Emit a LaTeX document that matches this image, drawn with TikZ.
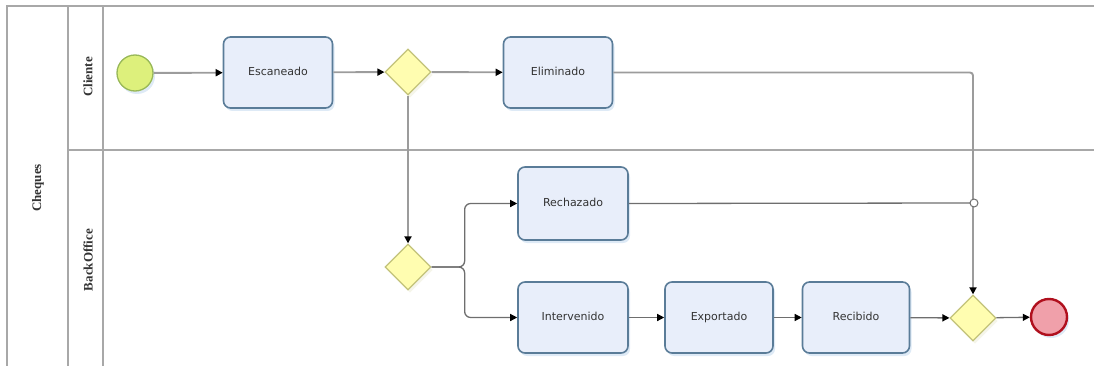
\documentclass[tikz,border=0pt]{standalone}
\usepackage{fontspec}
\setmainfont{DejaVu Sans}
\newfontfamily\lanefont{Liberation Serif}
\usetikzlibrary{arrows.meta,shapes.geometric,shadows}
\definecolor{laneline}{HTML}{A8A8A8}
\definecolor{flowup}{HTML}{9C9C9C}
\definecolor{flowlow}{HTML}{6E6E6E}
\definecolor{taskfill}{HTML}{E8EEFA}
\definecolor{taskdraw}{HTML}{5A7C98}
\definecolor{gwfill}{HTML}{FFFDB0}
\definecolor{gwdraw}{HTML}{C2C27A}
\definecolor{startfill}{HTML}{DDF07C}
\definecolor{startdraw}{HTML}{98B858}
\definecolor{endfill}{HTML}{F0A0AA}
\definecolor{enddraw}{HTML}{B0101E}
\definecolor{shadowc}{HTML}{C8DCF0}
\definecolor{textc}{HTML}{333333}
\tikzset{
  lane/.style={draw=laneline, line width=1.4pt},
  task/.style={rectangle, rounded corners=7pt, draw=taskdraw, line width=1.6pt, fill=taskfill,
     minimum width=109pt, minimum height=71pt, inner sep=0pt, text=textc,
     font=\fontsize{11}{13}\selectfont, text height=1.6ex, text depth=0.4ex,
     drop shadow={shadow xshift=2pt, shadow yshift=-3pt, fill=shadowc, opacity=0.6}},
  gw/.style={diamond, draw=gwdraw, line width=1.3pt, fill=gwfill, minimum width=46pt, minimum height=46pt, inner sep=0pt,
     drop shadow={shadow xshift=2pt, shadow yshift=-3pt, fill=gwdraw!40, opacity=0.4}},
  startev/.style={circle, draw=startdraw, line width=1.3pt, fill=startfill, minimum size=36pt, inner sep=0pt,
     drop shadow={shadow xshift=2pt, shadow yshift=-3pt, fill=shadowc, opacity=0.6}},
  endev/.style={circle, draw=enddraw, line width=2.4pt, fill=endfill, minimum size=36pt, inner sep=0pt,
     drop shadow={shadow xshift=2pt, shadow yshift=-3pt, fill=shadowc, opacity=0.6}},
  flowa/.style={draw=flowup, line width=1.9pt, -{Triangle[color=black,length=7pt,width=7pt]}},
  flowb/.style={draw=flowlow, line width=1.3pt, -{Triangle[color=black,length=7pt,width=7pt]}},
  lanelabel/.style={rotate=90, font=\lanefont\bfseries\fontsize{13}{15}\selectfont, inner sep=0pt, text=textc},
}
\begin{document}
\begin{tikzpicture}[x=1pt,y=-1pt]
\useasboundingbox (0,0) rectangle (1094,366);
% pool and lanes
\draw[lane] (1094,6) -- (7,6) -- (7,366);
\draw[lane] (68,6) -- (68,366);
\draw[lane] (103,6) -- (103,366);
\draw[lane] (68,150) -- (1094,150);
\node[lanelabel] (pool) at (38,188) {Cheques};
\node[lanelabel] (l1) at (88,77) {Cliente};
\node[lanelabel] (l2) at (88,260) {BackOffice};
% nodes
\node[startev] (start) at (135,73) {};
\node[task] (esc) at (278,72.5) {Escaneado};
\node[gw] (g1) at (408,72) {};
\node[task] (elim) at (558,72.5) {Eliminado};
\node[gw] (g2) at (408,267) {};
\node[task, minimum width=110pt, minimum height=73pt] (rech) at (573,203.5) {Rechazado};
\node[task, minimum width=110pt] (interv) at (573,317.5) {Intervenido};
\node[task, minimum width=108pt] (expo) at (719,317.5) {Exportado};
\node[task, minimum width=107pt] (recib) at (856,317.5) {Recibido};
\node[gw] (g3) at (973,318) {};
\node[endev] (end) at (1049,317) {};
\coordinate (hop) at (974,203);
% flows
\draw[flowa] (start) -- (esc);
\draw[flowa] (esc) -- (g1);
\draw[flowa] (g1) -- (elim);
\draw[flowa, rounded corners=3pt] (elim.east) -| (g3.north);
\draw[flowa] (g1.south) -- (g2.north);
\draw[flowb, rounded corners=6pt] (g2.east) -- ++(33,0) |- (rech.west);
\draw[flowb, rounded corners=6pt] (g2.east) -- ++(33,0) |- (interv.west);
\draw[draw=flowlow, line width=1.3pt] (rech.east) -- ([xshift=-4pt]hop);
\draw[draw=flowlow, line width=1pt, fill=white] (hop) circle (4pt);
\draw[flowb] (interv) -- (expo);
\draw[flowb] (expo) -- (recib);
\draw[flowb] (recib) -- (g3);
\draw[flowb] (g3) -- (end);
\end{tikzpicture}
\end{document}
